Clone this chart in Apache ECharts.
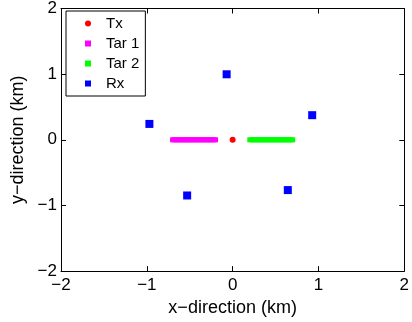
<!DOCTYPE html>
<html>
<head>
<meta charset="utf-8">
<script src="https://cdn.jsdelivr.net/npm/echarts@6/dist/echarts.min.js"></script>
<style>html,body{margin:0;padding:0;background:#fff}#c{width:412px;height:322px}</style>
</head>
<body>
<div id="c"></div>
<script>
// ---- data ----
var seriesNames = ['Tx', 'Tar 1', 'Tar 2', 'Rx'];
var txPoints = [[0, 0]];
var tar1X = [-0.70,-0.68,-0.66,-0.64,-0.62,-0.60,-0.58,-0.56,-0.54,-0.52,-0.50,-0.48,-0.46,-0.44,-0.42,-0.40,-0.38,-0.36,-0.34,-0.32,-0.30,-0.28,-0.26,-0.24,-0.22,-0.20];
var tar2X = [0.20,0.22,0.24,0.26,0.28,0.30,0.32,0.34,0.36,0.38,0.40,0.42,0.44,0.46,0.48,0.50,0.52,0.54,0.56,0.58,0.60,0.62,0.64,0.66,0.68,0.70];
var targetY = 0;
var rxX = [-0.07, 0.927, -0.970, -0.530, 0.643];
var rxY = [0.998, 0.375, 0.242, -0.848, -0.766];
var xTicks = [-2, -1, 0, 1, 2];
var yTicks = [-2, -1, 0, 1, 2];
var xTitle = 'x\u2212direction (km)';
var yTitle = 'y\u2212direction (km)';

var FONT = 'Liberation Sans, Arial, Helvetica, sans-serif';
function fmt(v) { return String(v).replace('-', '\u2212'); }

var tar1 = tar1X.map(function (x) { return [x, targetY]; });
var tar2 = tar2X.map(function (x) { return [x, targetY]; });
var rx = rxX.map(function (x, i) { return [x, rxY[i]]; });

var chart = echarts.init(document.getElementById('c'), null, { renderer: 'canvas' });
var axisCommon = {
  min: xTicks[0], max: xTicks[xTicks.length - 1], interval: 1,
  axisLine: { show: true, onZero: false, lineStyle: { color: '#000', width: 1 } },
  axisTick: { show: true, inside: true, length: 5, lineStyle: { color: '#000' } },
  splitLine: { show: false }
};
chart.setOption({
  animation: false,
  backgroundColor: '#fff',
  grid: { left: 61, right: 6, top: 5, bottom: 50 },
  xAxis: [
    Object.assign({}, axisCommon, {
      type: 'value', position: 'bottom',
      axisLabel: { color: '#000', fontSize: 17, fontFamily: FONT, margin: 6, formatter: fmt },
      name: xTitle, nameLocation: 'middle', nameGap: 20,
      nameTextStyle: { color: '#000', fontSize: 18, fontFamily: FONT }
    }),
    Object.assign({}, axisCommon, { type: 'value', position: 'top', axisLabel: { show: false } })
  ],
  yAxis: [
    Object.assign({}, axisCommon, {
      type: 'value', position: 'left', min: yTicks[0], max: yTicks[yTicks.length - 1],
      axisLabel: { color: '#000', fontSize: 17, fontFamily: FONT, margin: 4, formatter: fmt },
      name: yTitle, nameLocation: 'middle', nameGap: 30,
      nameTextStyle: { color: '#000', fontSize: 18, fontFamily: FONT }
    }),
    Object.assign({}, axisCommon, { type: 'value', position: 'right', min: yTicks[0], max: yTicks[yTicks.length - 1], axisLabel: { show: false } })
  ],
  legend: {
    orient: 'vertical', left: 66, top: 11,
    backgroundColor: '#fff', borderColor: '#000', borderWidth: 1,
    padding: [5, 6, 5, 19],
    itemWidth: 6, itemHeight: 6, itemGap: 5,
    textStyle: { color: '#000', fontSize: 15, fontFamily: FONT, lineHeight: 14, padding: [0, 0, 0, 10] },
    data: [
      { name: seriesNames[0], icon: 'circle' },
      { name: seriesNames[1], icon: 'rect' },
      { name: seriesNames[2], icon: 'rect' },
      { name: seriesNames[3], icon: 'rect' }
    ]
  },
  series: [
    { name: seriesNames[0], type: 'scatter', data: txPoints, symbol: 'circle', symbolSize: 6, itemStyle: { color: '#ff0000', opacity: 1 }, z: 5 },
    { name: seriesNames[1], type: 'scatter', data: tar1, symbol: 'rect', symbolSize: 5, itemStyle: { color: '#ff00ff', opacity: 1 } },
    { name: seriesNames[2], type: 'scatter', data: tar2, symbol: 'rect', symbolSize: 5, itemStyle: { color: '#00ff00', opacity: 1 } },
    { name: seriesNames[3], type: 'scatter', data: rx, symbol: 'rect', symbolSize: 8, itemStyle: { color: '#0000ff', opacity: 1 } }
  ]
});
</script>
</body>
</html>
